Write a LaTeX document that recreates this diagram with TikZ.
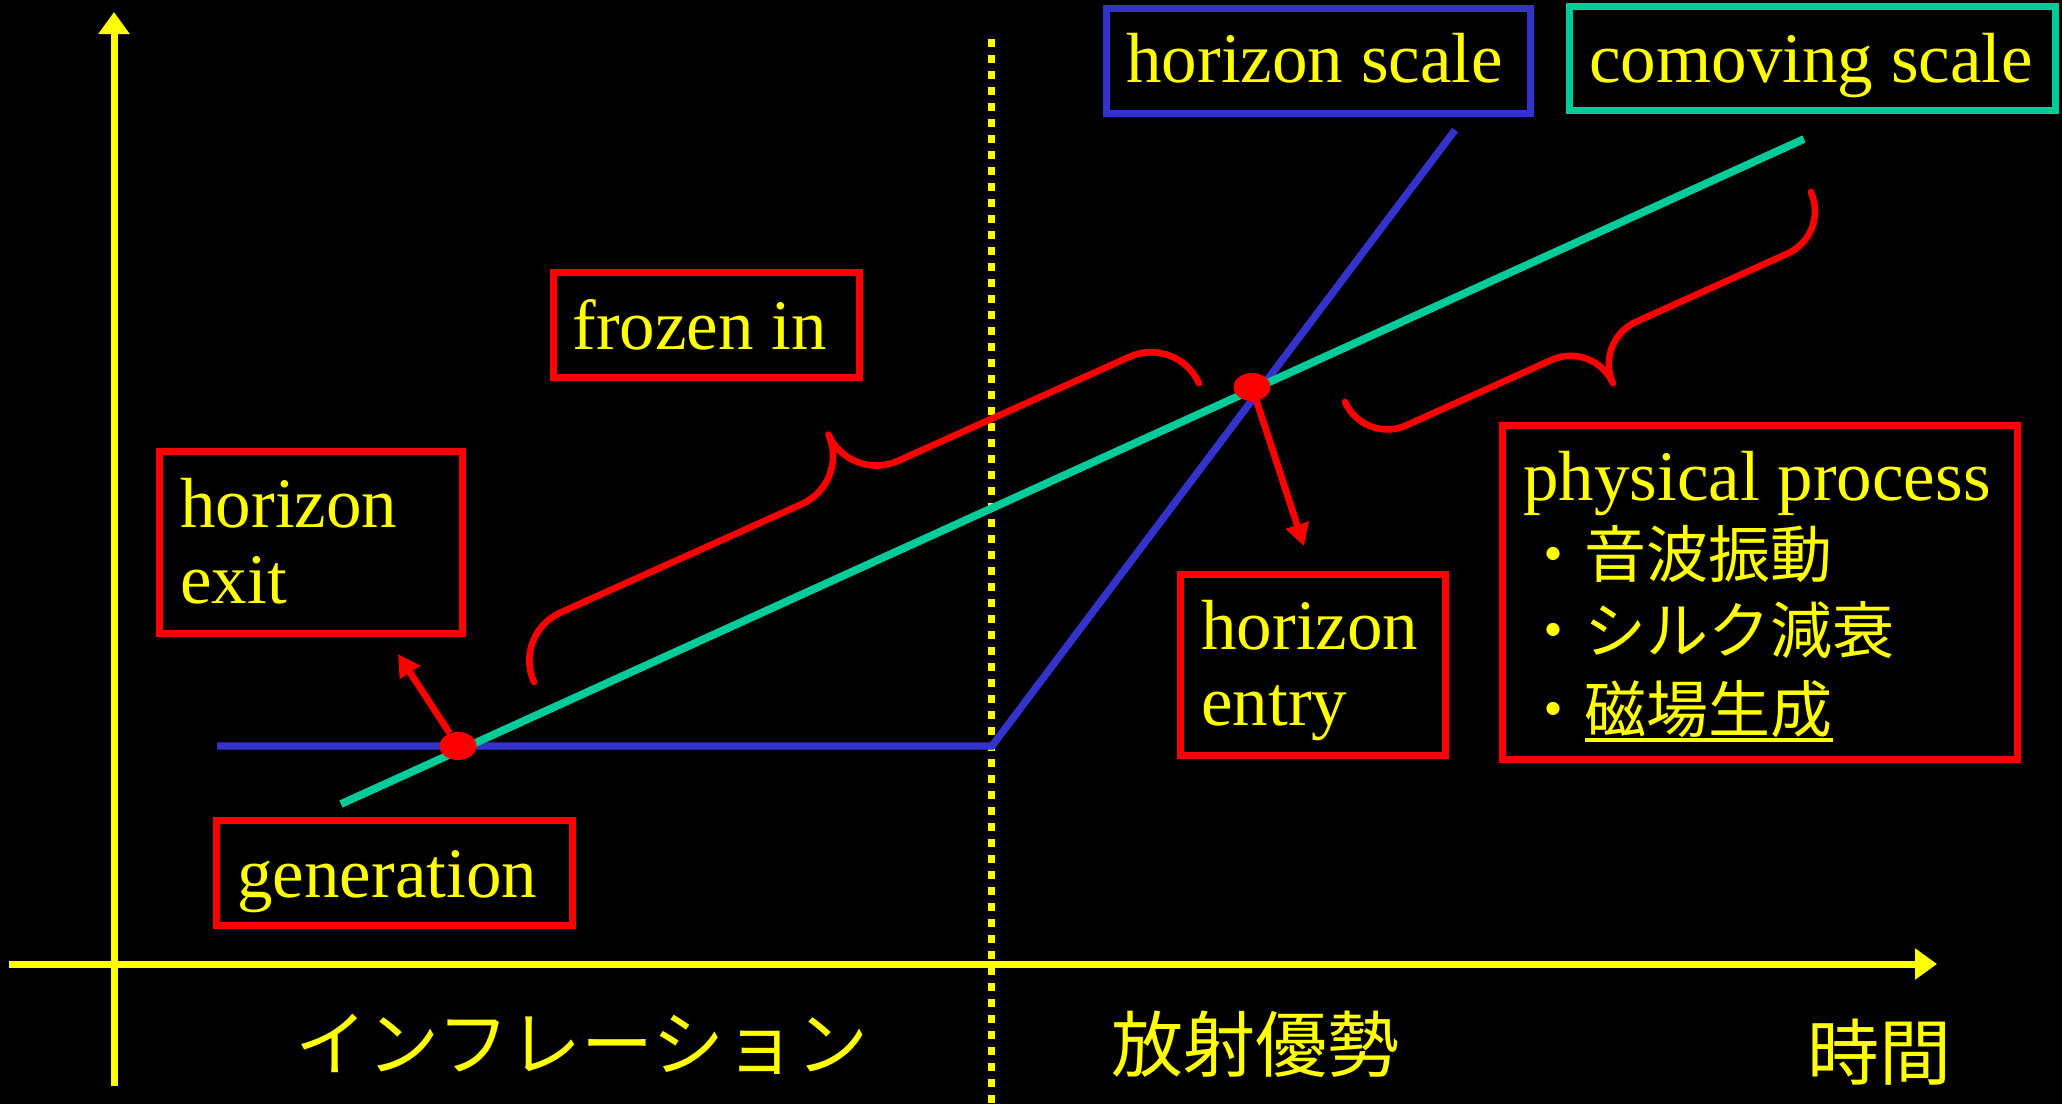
\documentclass[tikz,border=0pt]{standalone}
\usepackage{fontspec}
\setmainfont{Liberation Serif}
\newfontfamily\jpfont{Noto Sans CJK JP}
\usetikzlibrary{arrows.meta,shapes.geometric}
\definecolor{ylw}{HTML}{FFFF00}
\definecolor{rd}{HTML}{FF0000}
\definecolor{bl}{HTML}{3333CC}
\definecolor{gr}{HTML}{00CC99}
\begin{document}
\begin{tikzpicture}[x=0.5pt,y=-0.5pt,
  lbl/.style={text=ylw, inner sep=0pt, font=\fontsize{35.5}{42}\selectfont, anchor=base west},
  jpitem/.style={text=ylw, inner sep=0pt, font=\jpfont\fontsize{31}{37}\selectfont, anchor=base west},
  axlbl/.style={text=ylw, inner sep=0pt, font=\jpfont\fontsize{36}{43}\selectfont, anchor=base},
  redbox/.style={draw=rd, line width=3.5pt, inner sep=0pt},
  bluebox/.style={draw=bl, line width=3.5pt, inner sep=0pt},
  greenbox/.style={draw=gr, line width=3.5pt, inner sep=0pt},
  axis/.style={draw=ylw, line width=3.5pt, -{Triangle[length=11pt,width=15pt]}},
  dotline/.style={draw=ylw, line width=3.5pt, dash pattern=on 4pt off 4pt},
  bline/.style={draw=bl, line width=3.7pt},
  gline/.style={draw=gr, line width=3.9pt},
  redarrow/.style={draw=rd, line width=3.4pt, -{Triangle[length=11pt,width=11.5pt]}},
  reddot/.style={ellipse, fill=rd, minimum width=18.5pt, minimum height=14pt, inner sep=0pt},
  bracestyle/.style={draw=rd, line width=3.3pt, line cap=round, line join=round},
  uline/.style={draw=ylw, line width=1.8pt}]
\fill[black] (0,0) rectangle (2062,1104);
\useasboundingbox (0,0) rectangle (2062,1104);

% axes
\coordinate (xa0) at (9,964);
\coordinate (xa1) at (1937,964);
\coordinate (ya0) at (114,1086);
\coordinate (ya1) at (114,12);
\draw[axis] (xa0) -- (xa1);
\draw[axis] (ya0) -- (ya1);

% dotted separator
\coordinate (sep0) at (991,39);
\coordinate (sep1) at (991,1104);
\draw[dotline] (sep0) -- (sep1);

% horizon scale (blue) and comoving scale (green)
\coordinate (b0) at (217,746);
\coordinate (b1) at (992,746);
\coordinate (b2) at (1455,130);
\draw[bline] (b0) -- (b1) -- (b2);
\coordinate (g0) at (341,804);
\coordinate (g1) at (1804,139);
\draw[gline] (g0) -- (g1);

% braces
\begin{scope}[shift={(534,682)}, rotate=24.2]
\draw[bracestyle] (0,0) .. controls (0,-29) and (23.5,-52.5) .. (52.5,-52.5) -- (317.5,-52.5)
  .. controls (346.5,-52.5) and (370,-76) .. (370,-105)
  .. controls (370,-76) and (393.5,-52.5) .. (422.5,-52.5) -- (676.5,-52.5)
  .. controls (705.5,-52.5) and (729,-29) .. (729,0);
\end{scope}
\begin{scope}[shift={(1345,402)}, rotate=24.26]
\draw[bracestyle] (0,0) .. controls (0,25.7) and (20.8,46.5) .. (46.5,46.5) -- (205.5,46.5)
  .. controls (231.2,46.5) and (252,67.3) .. (252,93)
  .. controls (252,67.3) and (272.8,46.5) .. (298.5,46.5) -- (464.5,46.5)
  .. controls (490.2,46.5) and (511,25.7) .. (511,0);
\end{scope}

% red dots and arrows
\node[reddot] (d1) at (458,746) {};
\node[reddot] (d2) at (1252,387) {};
\coordinate (t1) at (398,654);
\coordinate (t2) at (1304,546);
\draw[redarrow] (d1) -- (t1);
\draw[redarrow] (d2) -- (t2);

% boxes
\node[redbox, minimum width=153pt, minimum height=52.5pt] (bfro) at (706.5,325) {};
\node[redbox, minimum width=151.5pt, minimum height=91pt] (bhex) at (311,542.5) {};
\node[redbox, minimum width=178pt, minimum height=52.5pt] (bgen) at (394.5,873) {};
\node[redbox, minimum width=132.5pt, minimum height=90.5pt] (bhen) at (1313,665) {};
\node[redbox, minimum width=257.5pt, minimum height=167pt] (bphy) at (1760,592.5) {};
\node[bluebox, minimum width=212pt, minimum height=52.5pt] (bhsc) at (1318.5,61) {};
\node[greenbox, minimum width=243pt, minimum height=52pt] (bcsc) at (1812.5,58.5) {};

% texts
\node[lbl] (tfro) at (572,349) {frozen in};
\node[lbl] (thex1) at (180,527) {horizon};
\node[lbl] (thex2) at (180,603) {exit};
\node[lbl] (tgen) at (237,897) {generation};
\node[lbl] (then1) at (1201,649) {horizon};
\node[lbl] (then2) at (1201,725) {entry};
\node[lbl] (thsc) at (1126,82) {horizon scale};
\node[lbl] (tcsc) at (1589,82) {comoving scale};
\node[lbl] (tphy) at (1523,500) {physical process};
\node[jpitem] (j1) at (1522,577) {・音波振動};
\node[jpitem] (j2) at (1522,653) {・シルク減衰};
\node[jpitem] (j3) at (1522,732) {・磁場生成};
\draw[uline] ([xshift=31.5pt,yshift=-4pt]j3.base west) -- ([yshift=-4pt]j3.base east);

% axis labels
\node[axlbl] (linf) at (582,1070) {インフレーション};
\node[axlbl] (lrad) at (1255,1071) {放射優勢};
\node[axlbl] (ltime) at (1879,1079) {時間};
\end{tikzpicture}
\end{document}
